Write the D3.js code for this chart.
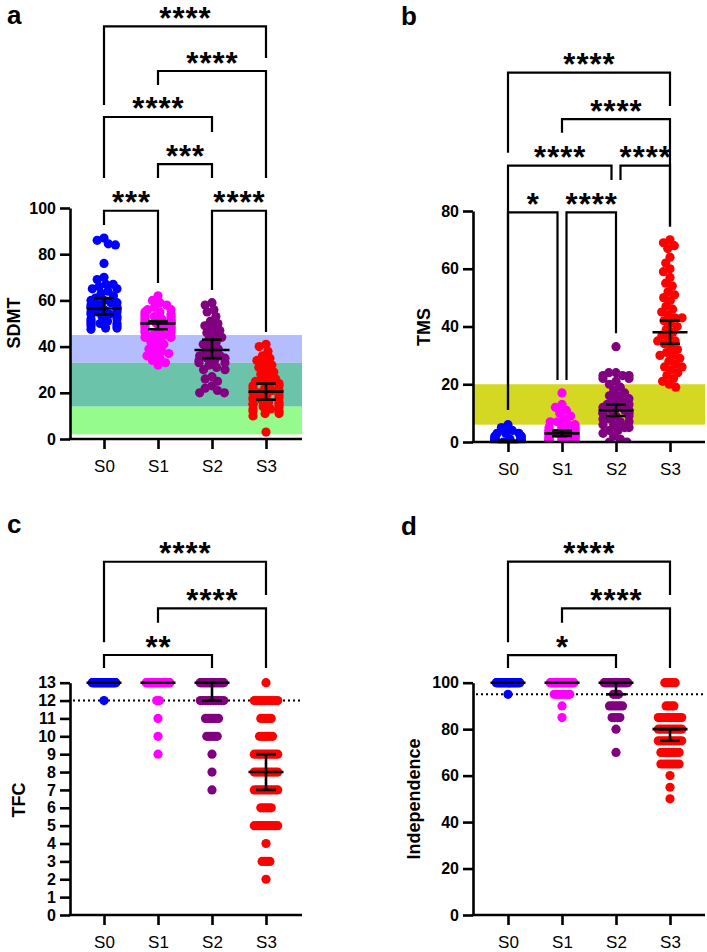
<!DOCTYPE html>
<html><head><meta charset="utf-8">
<script src="https://cdn.jsdelivr.net/npm/d3@7"></script>
<style>body{margin:0;background:#fff} svg{display:block} text{font-family:"Liberation Sans", Arial, Helvetica, sans-serif}</style>
</head><body>
<svg id="chart" width="707" height="952"></svg>
<script>
// ---------------- DATA ----------------
const groups = ["S0", "S1", "S2", "S3"];
const groupColors = ["#0000ff", "#ff00ff", "#800080", "#ff0000"];

// Panel a: SDMT
const sdmtS0 = [87, 86, 84.5, 84, 76, 70, 69, 67, 67, 66, 65, 65, 64, 63, 62, 61, 60, 60, 59, 59, 58, 58, 57, 57, 56, 56, 55, 55, 55, 54, 54, 53, 53, 52, 52, 51, 51, 50, 50, 50, 49, 49, 48, 48, 47.5];
const sdmtS1 = [62, 60, 59, 58, 57, 56, 56, 55, 55, 54, 54, 53, 53, 53, 52, 52, 52, 51, 51, 51, 50, 50, 50, 50, 49, 49, 49, 48, 48, 48, 47, 47, 47, 46, 46, 45, 45, 44, 44, 43, 42, 41, 40, 39, 38, 37, 37, 36, 35, 34, 33, 32];
const sdmtS2 = [59, 58, 56, 55, 53, 51, 50, 49, 48, 47, 46, 45, 44, 43, 42, 41, 40, 39, 38, 37, 36, 36, 35, 35, 34, 34, 33, 33, 32, 31, 30, 30, 27, 26, 25, 23, 22, 21, 20, 20];
const sdmtS3 = [41, 40, 38, 36, 35, 34, 33, 32, 31, 30, 29, 28, 27, 26, 25, 25, 24, 24, 23, 23, 22, 22, 21, 21, 20, 20, 19, 19, 18, 18, 17, 17, 16, 16, 15, 15, 15, 14, 14, 13, 13, 12, 12, 11, 11, 10, 3];
const sdmtMean = [56.5, 50, 38.5, 20.5];
const sdmtLow = [54, 47.5, 35, 17];
const sdmtHigh = [61, 51, 43, 24];
const sdmtTicks = [0, 20, 40, 60, 80, 100];
const sdmtBandLow = [33, 14, 2];
const sdmtBandHigh = [45, 33, 14];
// brackets: [from, to, label, level, leftEnd, rightEnd] (in SDMT units)
const sdmtBrackets = [
  ["S0", "S3", "****", 178.6, 144.6, 164.9],
  ["S1", "S3", "****", 159.3, 153.2, 113.0],
  ["S0", "S2", "****", 139.4, 113.0, 132.9],
  ["S1", "S2", "***", 119.0, 113.0, 113.0],
  ["S0", "S1", "***", 98.8, 92.6, 67.5],
  ["S2", "S3", "****", 98.8, 64.5, 46.3]
];

// Panel b: TMS
const tmsS0 = [6, 5, 4, 3, 3, 3, 2, 2, 2, 2, 2, 1, 1, 1, 1, 1, 1, 1, 1, 0, 0, 0, 0, 0, 0, 0, 0, 0, 0, 0, 0, 0, 0, 0, 0, 0, 0, 0, 0, 0, 0];
const tmsS1 = [17, 13, 12, 11, 10, 9, 8, 7, 7, 6, 6, 5, 5, 5, 4, 4, 4, 4, 3, 3, 3, 3, 3, 2, 2, 2, 2, 2, 1, 1, 1, 1, 1, 1, 0, 0, 0, 0, 0, 0, 0, 0, 0, 0];
const tmsS2 = [33, 24, 24, 23, 23, 23, 22, 22, 21, 20, 19, 18, 17, 16, 16, 15, 14, 14, 13, 13, 12, 12, 11, 11, 11, 10, 10, 10, 9, 9, 8, 8, 7, 7, 6, 6, 5, 5, 4, 4, 3, 2, 1, 0, 0];
const tmsS3 = [70, 69, 68, 67, 64, 62, 60, 59, 57, 55, 54, 52, 51, 50, 49, 47, 46, 45, 44, 43, 43, 42, 41, 40, 39, 38, 37, 36, 35, 35, 34, 33, 32, 31, 30, 30, 29, 28, 27, 26, 26, 25, 24, 23, 22, 21, 20, 19];
const tmsMean = [0, 3, 11, 38];
const tmsLow = [0, 2, 9, 34];
const tmsHigh = [0.5, 4, 13, 42];
const tmsTicks = [0, 20, 40, 60, 80];
const tmsBandLow = [6];
const tmsBandHigh = [20];
const tmsBrackets = [
  ["S0", "S3", "****", 127.9, 100.2, 116.4],
  ["S1", "S3", "****", 111.8, 107.1, 74.6],
  ["S0", "S2", "****", 95.7, 11.1, 90.7],
  ["S2", "S3", "****", 95.7, 90.7, 74.6],
  ["S0", "S1", "*", 79.5, 11.1, 21.5],
  ["S1", "S2", "****", 79.5, 21.5, 37.7]
];

// Panel c: TFC  (values and how many subjects share each)
const tfcLevels = [13, 12, 11, 10, 9, 8, 7, 6, 5, 4, 3, 2];
const tfcCountS0 = [40, 1, 0, 0, 0, 0, 0, 0, 0, 0, 0, 0];
const tfcCountS1 = [35, 2, 1, 1, 1, 0, 0, 0, 0, 0, 0, 0];
const tfcCountS2 = [30, 10, 6, 5, 1, 1, 1, 0, 0, 0, 0, 0];
const tfcCountS3 = [1, 10, 5, 6, 10, 10, 10, 5, 10, 1, 4, 1];
const tfcMean = [13, 13, 13, 8];
const tfcLow = [13, 13, 12, 7];
const tfcHigh = [13, 13, 13, 9];
const tfcTicks = [0,1,2,3,4,5,6,7,8,9,10,11,12,13];
const tfcCutoff = 12;
const tfcBrackets = [
  ["S0", "S3", "****", 19.77, 15.26, 17.91],
  ["S1", "S3", "****", 17.16, 16.36, 13.82],
  ["S0", "S2", "**", 14.55, 13.82, 13.82]
];

// Panel d: Independence
const indLevels = [100, 95, 90, 85, 80, 75, 70, 65, 60, 55, 50];
const indCountS0 = [40, 1, 0, 0, 0, 0, 0, 0, 0, 0, 0];
const indCountS1 = [35, 7, 1, 1, 0, 0, 0, 0, 0, 0, 0];
const indCountS2 = [30, 3, 6, 4, 1, 0, 1, 0, 0, 0, 0];
const indCountS3 = [5, 0, 4, 10, 10, 10, 8, 8, 1, 1, 1];
const indMean = [100, 100, 100, 80];
const indLow = [100, 100, 95, 75];
const indHigh = [100, 100, 100, 80];
const indTicks = [0, 20, 40, 60, 80, 100];
const indCutoff = 95;
const indBrackets = [
  ["S0", "S3", "****", 152.1, 117.4, 137.8],
  ["S1", "S3", "****", 132.0, 125.8, 106.3],
  ["S0", "S2", "*", 111.9, 106.3, 106.3]
];

// ---------------- LAYOUT ----------------
const svg = d3.select("#chart");
const R = 4.6, SEP = 7.2, CAP = 13, TIE = 2.6, TCAP = 11.8;
const bandColorsA = ["#b4bdfe", "#6bc3a9", "#95fb8c"];
const bandColorsB = ["#d5d822"];

const expand = (levels, counts) => levels.flatMap((v, i) => d3.range(counts[i]).map(() => v));

function swarm(values, y) {
  const pts = values.map(v => ({ v, y: y(v) })).sort((a, b) => b.v - a.v);
  const placed = [];
  let side = 1;
  pts.forEach(p => {
    const neigh = placed.filter(q => Math.abs(q.y - p.y) < SEP);
    const cands = [0];
    neigh.forEach(q => { const dx = Math.sqrt(SEP * SEP - (q.y - p.y) ** 2); cands.push(q.x + dx, q.x - dx); });
    cands.sort((a, b) => Math.abs(a) - Math.abs(b) || a - b);
    let x = null;
    for (const c of cands) {
      if (Math.abs(c) > CAP + 0.01) break;
      if (neigh.every(q => (q.x - c) ** 2 + (q.y - p.y) ** 2 >= SEP * SEP - 0.01)) { x = c; break; }
    }
    if (x === null) { x = side * CAP; side = -side; }
    p.x = x; placed.push(p);
  });
  return pts;
}

function rows(values, y) {
  const pts = [];
  for (const [v, arr] of d3.group(values, d => d)) {
    const n = arr.length;
    const s = n > 1 ? Math.min(TIE, 2 * TCAP / (n - 1)) : 0;
    arr.forEach((_, k) => pts.push({ v, y: y(v), x: (k - (n - 1) / 2) * s }));
  }
  return pts;
}

function panel(cfg) {
  const g = svg.append("g");
  const y = d3.scaleLinear().domain(cfg.domain).range(cfg.yRange);
  const x = d3.scalePoint().domain(groups).range(cfg.xRange);
  const y0 = cfg.yRange[0];
  const clipId = "clip" + cfg.letter;
  svg.append("clipPath").attr("id", clipId).append("rect")
    .attr("x", cfg.axisX).attr("y", 0).attr("width", cfg.xEnd - cfg.axisX + 10).attr("height", y0);

  if (cfg.bandLow) {
    g.selectAll(".band").data(cfg.bandLow).join("rect")
      .attr("x", cfg.axisX).attr("width", cfg.xEnd - cfg.axisX)
      .attr("y", (d, i) => y(cfg.bandHigh[i])).attr("height", (d, i) => y(d) - y(cfg.bandHigh[i]))
      .attr("fill", (d, i) => cfg.bandColors[i]);
  }
  if (cfg.cutoff !== undefined) {
    g.append("line").attr("x1", cfg.axisX + 3).attr("x2", cfg.xEnd - 2)
      .attr("y1", y(cfg.cutoff)).attr("y2", y(cfg.cutoff))
      .attr("stroke", "#000").attr("stroke-width", 2).attr("stroke-dasharray", "2,3");
  }
  const dg = g.append("g").attr("clip-path", `url(#${clipId})`);
  cfg.series.forEach((vals, i) => {
    const pts = cfg.layout(vals, y);
    dg.selectAll(null).data(pts).join("circle")
      .attr("cx", d => x(groups[i]) + d.x).attr("cy", d => d.y).attr("r", R)
      .attr("fill", groupColors[i]);
  });
  groups.forEach((gname, i) => {
    const cx = x(gname);
    const eg = g.append("g").attr("stroke", "#000").attr("stroke-width", 2.6);
    eg.append("line").attr("x1", cx - 17.5).attr("x2", cx + 17.5).attr("y1", y(cfg.mean[i])).attr("y2", y(cfg.mean[i]));
    if (cfg.high[i] !== cfg.low[i]) {
      eg.append("line").attr("x1", cx).attr("x2", cx).attr("y1", y(cfg.high[i])).attr("y2", y(cfg.low[i]));
      eg.append("line").attr("x1", cx - 10).attr("x2", cx + 10).attr("y1", y(cfg.high[i])).attr("y2", y(cfg.high[i]));
      eg.append("line").attr("x1", cx - 10).attr("x2", cx + 10).attr("y1", y(cfg.low[i])).attr("y2", y(cfg.low[i]));
    }
  });
  const ya = g.append("g").attr("transform", `translate(${cfg.axisX},0)`)
    .call(d3.axisLeft(y).tickValues(cfg.ticks).tickSize(10).tickSizeOuter(0).tickPadding(4));
  ya.select(".domain").attr("stroke-width", 2.6);
  ya.selectAll(".tick line").attr("stroke-width", 2.6);
  ya.selectAll(".tick text").attr("font-size", 16).attr("font-weight", "bold").attr("fill", "#000")
    .attr("font-family", "Liberation Sans, Arial, sans-serif");
  const xa = g.append("g").attr("transform", `translate(0,${y0})`)
    .call(d3.axisBottom(x).tickSize(10).tickSizeOuter(0).tickPadding(11));
  xa.select(".domain").remove();
  xa.selectAll(".tick line").attr("stroke-width", 2.6);
  xa.selectAll(".tick text").attr("font-size", 17).attr("fill", "#000")
    .attr("font-family", "Liberation Sans, Arial, sans-serif");
  g.append("line").attr("x1", cfg.axisX - 1.3).attr("x2", cfg.xEnd).attr("y1", y0).attr("y2", y0)
    .attr("stroke", "#000").attr("stroke-width", 2.6);
  g.append("text").attr("transform", `translate(${cfg.labelX},${cfg.labelY}) rotate(-90)`)
    .attr("text-anchor", "middle").attr("font-size", 18).attr("font-weight", "bold").text(cfg.yLabel);
  g.append("text").attr("x", cfg.letterX).attr("y", cfg.letterY).attr("font-size", 26)
    .attr("font-weight", "bold").text(cfg.letter);
  const legX = (b, end) => {
    const name = b[end];
    let px = x(name);
    cfg.brackets.forEach(o => {
      if (o === b || Math.abs(o[3] - b[3]) > 0.01) return;
      if (end === 1 && o[0] === name) px -= 4.5;
      if (end === 0 && o[1] === name) px += 4.5;
    });
    return px;
  };
  cfg.brackets.forEach(b => {
    const xl = legX(b, 0), xr = legX(b, 1);
    const ly = y(b[3]);
    g.append("path").attr("fill", "none").attr("stroke", "#000").attr("stroke-width", 2.2)
      .attr("d", `M${xl},${y(b[4])}V${ly}H${xr}V${y(b[5])}`);
    g.append("text").attr("x", (xl + xr) / 2 + 0.5).attr("y", ly + 2.5).attr("text-anchor", "middle")
      .attr("font-size", 31).attr("letter-spacing", 1).attr("font-weight", "bold").text(b[2]);
  });
}

panel({ letter: "a", letterX: 7, letterY: 23.8, domain: [0, 100], yRange: [439, 208], xRange: [104, 266],
  axisX: 70, xEnd: 302, ticks: sdmtTicks, yLabel: "SDMT", labelX: 20, labelY: 323, layout: swarm,
  series: [sdmtS0, sdmtS1, sdmtS2, sdmtS3], mean: sdmtMean, low: sdmtLow, high: sdmtHigh,
  bandLow: sdmtBandLow, bandHigh: sdmtBandHigh, bandColors: bandColorsA, brackets: sdmtBrackets });
panel({ letter: "b", letterX: 401, letterY: 25, domain: [0, 80], yRange: [442, 211], xRange: [508, 670],
  axisX: 473, xEnd: 705, ticks: tmsTicks, yLabel: "TMS", labelX: 430, labelY: 327, layout: swarm,
  series: [tmsS0, tmsS1, tmsS2, tmsS3], mean: tmsMean, low: tmsLow, high: tmsHigh,
  bandLow: tmsBandLow, bandHigh: tmsBandHigh, bandColors: bandColorsB, brackets: tmsBrackets });
panel({ letter: "c", letterX: 7, letterY: 533, domain: [0, 13], yRange: [915, 682.7], xRange: [104, 266],
  axisX: 70, xEnd: 302, ticks: tfcTicks, yLabel: "TFC", labelX: 25, labelY: 800, layout: rows,
  series: [tfcCountS0, tfcCountS1, tfcCountS2, tfcCountS3].map(c => expand(tfcLevels, c)),
  mean: tfcMean, low: tfcLow, high: tfcHigh, cutoff: tfcCutoff, brackets: tfcBrackets });
panel({ letter: "d", letterX: 401, letterY: 535, domain: [0, 100], yRange: [915, 682.7], xRange: [508, 670],
  axisX: 473, xEnd: 705, ticks: indTicks, yLabel: "Independence", labelX: 420, labelY: 799, layout: rows,
  series: [indCountS0, indCountS1, indCountS2, indCountS3].map(c => expand(indLevels, c)),
  mean: indMean, low: indLow, high: indHigh, cutoff: indCutoff, brackets: indBrackets });
</script>
</body></html>
